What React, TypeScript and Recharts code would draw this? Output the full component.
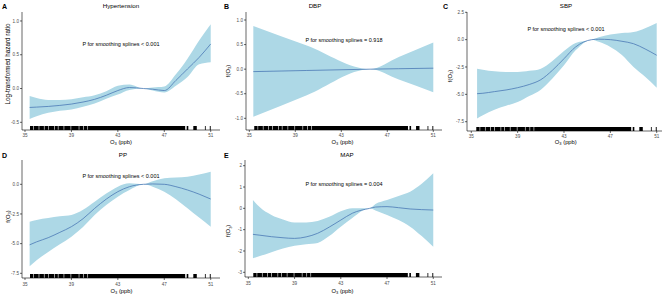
import React from 'react';
import { ComposedChart, Area, Line, XAxis, YAxis, ReferenceArea } from 'recharts';

const FONT = '"Liberation Sans", Arial, sans-serif';
const xTicks = [35, 39, 43, 47, 51];

// Panel A: Hypertension (log-transformed hazard ratio)
const hypX = [35.4, 36, 37, 38, 39, 40, 41, 42, 43, 44, 45.2, 46, 47, 48, 49, 50, 51];
const hypFit = [-0.28, -0.275, -0.265, -0.25, -0.23, -0.2, -0.16, -0.1, -0.03, 0.015, 0.0, -0.01, -0.03, 0.12, 0.29, 0.46, 0.66];
const hypLo = [-0.45, -0.41, -0.36, -0.33, -0.31, -0.27, -0.22, -0.15, -0.09, -0.02, 0.0, -0.03, -0.06, 0.04, 0.17, 0.36, 0.39];
const hypHi = [-0.11, -0.14, -0.17, -0.17, -0.16, -0.13, -0.1, -0.04, 0.04, 0.06, 0.0, 0.015, 0.03, 0.21, 0.44, 0.71, 0.95];

// Panel B: DBP
const dbpX = [35.35, 40, 45.5, 48, 51];
const dbpFit = [-0.05, -0.027, 0.0, 0.009, 0.02];
const dbpLo = [-0.97, -0.53, 0.0, -0.21, -0.47];
const dbpHi = [0.88, 0.48, 0.0, 0.245, 0.54];

// Panel C: SBP
const sbpX = [35.5, 36, 37, 38, 39, 40, 41, 42, 43, 44, 45.4, 46, 47, 48, 49, 50, 51];
const sbpFit = [-4.94, -4.9, -4.75, -4.6, -4.39, -4.1, -3.66, -2.8, -1.74, -0.67, 0.0, 0.04, 0.0, -0.15, -0.37, -0.85, -1.43];
const sbpLo = [-7.2, -6.9, -6.4, -6.05, -5.7, -5.15, -4.57, -3.55, -2.35, -0.98, 0.0, -0.2, -0.67, -1.4, -2.5, -3.4, -4.39];
const sbpHi = [-2.65, -2.75, -2.9, -2.95, -2.96, -2.85, -2.65, -1.95, -1.04, -0.3, 0.0, 0.22, 0.46, 0.6, 0.7, 1.05, 1.52];

// Panel D: PP
const ppX = [35.4, 36, 37, 38, 39, 40, 41, 42, 43, 44, 45.2, 46, 47, 48, 49, 50, 51];
const ppFit = [-5.1, -4.85, -4.5, -4.05, -3.57, -2.9, -2.03, -1.25, -0.62, -0.2, 0.0, 0.03, 0.0, -0.2, -0.48, -0.83, -1.24];
const ppLo = [-6.9, -6.4, -5.7, -5.05, -4.41, -3.6, -2.59, -1.75, -1.04, -0.48, 0.0, -0.2, -0.62, -1.25, -2.02, -2.8, -3.57];
const ppHi = [-3.15, -3.0, -2.85, -2.7, -2.59, -2.15, -1.46, -0.78, -0.2, 0.08, 0.0, 0.25, 0.5, 0.58, 0.64, 0.82, 1.06];

// Panel E: MAP
const mapX = [35.4, 36, 37, 38, 39, 40, 41, 42, 43, 44, 45.5, 46, 47, 48, 49, 50, 51];
const mapFit = [-1.22, -1.26, -1.33, -1.38, -1.41, -1.34, -1.17, -0.88, -0.55, -0.23, 0.0, 0.06, 0.08, 0.03, -0.03, -0.06, -0.08];
const mapLo = [-2.34, -2.24, -2.06, -1.88, -1.75, -1.68, -1.62, -1.3, -0.86, -0.45, 0.0, -0.1, -0.31, -0.55, -0.86, -1.3, -1.8];
const mapHi = [0.39, 0.05, -0.31, -0.52, -0.66, -0.66, -0.59, -0.4, -0.14, 0.0, 0.0, 0.2, 0.39, 0.58, 0.78, 1.15, 1.64];

// Rug of observed O3 values (ranges of dense ticks)
const rugRanges: [number, number][] = [
  [35.43, 35.72], [35.77, 36.18], [36.23, 36.63], [36.68, 36.98], [37.03, 37.53],
  [37.58, 37.83], [37.88, 38.33], [38.38, 38.93], [38.98, 39.63], [39.68, 40.03],
  [40.08, 40.38], [40.43, 48.8], [48.93, 49.07], [49.5, 49.8], [50.5, 50.57], [50.92, 51.0],
];

type PanelProps = {
  left: number; top: number; width: number; height: number;
  margin: { top: number; right: number; bottom: number; left: number };
  yWidth: number; xHeight: number; tickMarginX: number;
  xDomain: [number, number]; yDomain: [number, number];
  yTicks: number[]; yFmt: (v: number) => string;
  xs: number[]; fit: number[]; lo: number[]; hi: number[];
};

function Panel(p: PanelProps) {
  const data = p.xs.map((x, i) => ({ x, fit: p.fit[i], band: [p.lo[i], p.hi[i]] }));
  const plotH = p.height - p.margin.top - p.margin.bottom - p.xHeight;
  const rugH = ((p.yDomain[1] - p.yDomain[0]) * 4) / plotH;
  const tickStyle = { fontSize: 4.6, fill: '#4d4d4d', fontFamily: FONT };
  const lineStyle = { stroke: '#000', strokeWidth: 0.6 };
  return (
    <div style={{ position: 'absolute', left: p.left, top: p.top }}>
      <ComposedChart width={p.width} height={p.height} data={data} margin={p.margin}>
        <XAxis
          type="number" dataKey="x" domain={p.xDomain} ticks={xTicks} interval={0}
          allowDataOverflow tick={tickStyle} tickSize={2} tickMargin={p.tickMarginX}
          axisLine={lineStyle} tickLine={lineStyle} height={p.xHeight}
        />
        <YAxis
          type="number" domain={p.yDomain} ticks={p.yTicks} tickFormatter={p.yFmt} interval={0}
          allowDataOverflow width={p.yWidth} tick={tickStyle} tickSize={2} tickMargin={1}
          axisLine={lineStyle} tickLine={lineStyle}
        />
        <Area dataKey="band" type="monotone" fill="#add8e6" fillOpacity={1} stroke="none" isAnimationActive={false} />
        <Line dataKey="fit" type="monotone" stroke="#4a78b5" strokeWidth={0.8} dot={false} isAnimationActive={false} />
        {rugRanges.map(([a, b], i) => (
          <ReferenceArea key={i} x1={a} x2={b} y1={p.yDomain[0]} y2={p.yDomain[0] + rugH}
            fill="#000" fillOpacity={1} stroke="none" ifOverflow="visible" />
        ))}
      </ComposedChart>
    </div>
  );
}

const f1 = (v: number) => v.toFixed(1);
const f0 = (v: number) => v.toFixed(0);

function O3Label({ x, y }: { x: number; y: number }) {
  return (
    <text x={x} y={y} textAnchor="middle" fontSize={5.8} fontFamily={FONT} fill="#000">
      O<tspan fontSize={4} dy={1.2}>3</tspan><tspan dy={-1.2}> (ppb)</tspan>
    </text>
  );
}

function FLabel({ x, y }: { x: number; y: number }) {
  return (
    <text x={x} y={y} textAnchor="middle" fontSize={5.8} fontFamily={FONT} fill="#000"
      transform={`rotate(-90 ${x} ${y})`} dominantBaseline="central">
      f(O<tspan fontSize={4} dy={1.2}>3</tspan><tspan dy={-1.2}>)</tspan>
    </text>
  );
}

export default function App() {
  const t = { fontFamily: FONT, fill: '#000' };
  return (
    <div style={{ position: 'absolute', left: 0, top: 0, width: 669, height: 298, background: '#fff', overflow: 'hidden' }}>
      <Panel left={0} top={0} width={225} height={145} margin={{ top: 12, right: 5, bottom: 0, left: 0 }}
        yWidth={22} xHeight={15} tickMarginX={2} xDomain={[34.742, 51.8]} yDomain={[-0.614, 1.133]}
        yTicks={[-0.5, 0, 0.5, 1.0]} yFmt={f1} xs={hypX} fit={hypFit} lo={hypLo} hi={hypHi} />
      <Panel left={220} top={0} width={225} height={145} margin={{ top: 12, right: 3, bottom: 0, left: 0 }}
        yWidth={26} xHeight={15} tickMarginX={2} xDomain={[34.713, 51.757]} yDomain={[-1.238, 1.163]}
        yTicks={[-1.0, -0.5, 0, 0.5, 1.0]} yFmt={f1} xs={dbpX} fit={dbpFit} lo={dbpLo} hi={dbpHi} />
      <Panel left={440} top={0} width={229} height={145} margin={{ top: 12, right: 7, bottom: 0, left: 0 }}
        yWidth={27} xHeight={14} tickMarginX={2} xDomain={[34.63, 51.457]} yDomain={[-8.35, 2.527]}
        yTicks={[-7.5, -5.0, -2.5, 0, 2.5]} yFmt={f1} xs={sbpX} fit={sbpFit} lo={sbpLo} hi={sbpHi} />
      <Panel left={0} top={145} width={225} height={153} margin={{ top: 15, right: 5, bottom: 0, left: 0 }}
        yWidth={22} xHeight={20} tickMarginX={3} xDomain={[34.742, 51.8]} yDomain={[-7.896, 2.048]}
        yTicks={[-7.5, -5.0, -2.5, 0]} yFmt={f1} xs={ppX} fit={ppFit} lo={ppLo} hi={ppHi} />
      <Panel left={220} top={145} width={225} height={153} margin={{ top: 15, right: 3, bottom: 0, left: 0 }}
        yWidth={25} xHeight={21} tickMarginX={3} xDomain={[34.713, 51.757]} yDomain={[-3.22, 2.267]}
        yTicks={[-3, -2, -1, 0, 1, 2]} yFmt={f0} xs={mapX} fit={mapFit} lo={mapLo} hi={mapHi} />

      <svg width={669} height={298} style={{ position: 'absolute', left: 0, top: 0, pointerEvents: 'none' }}>
        <text x={2} y={8.5} fontSize={7} fontWeight="bold" {...t}>A</text>
        <text x={224} y={8.5} fontSize={7} fontWeight="bold" {...t}>B</text>
        <text x={443} y={8.5} fontSize={7} fontWeight="bold" {...t}>C</text>
        <text x={2} y={157.5} fontSize={7} fontWeight="bold" {...t}>D</text>
        <text x={224} y={157.5} fontSize={7} fontWeight="bold" {...t}>E</text>
        <text x={121} y={8.3} fontSize={6.2} fontWeight="normal" textAnchor="middle" {...t}>Hypertension</text>
        <text x={315} y={8.3} fontSize={6.2} fontWeight="normal" textAnchor="middle" {...t}>DBP</text>
        <text x={566} y={8.3} fontSize={6.2} fontWeight="normal" textAnchor="middle" {...t}>SBP</text>
        <text x={123} y={157.3} fontSize={6.2} fontWeight="normal" textAnchor="middle" {...t}>PP</text>
        <text x={347} y={157.3} fontSize={6.2} fontWeight="normal" textAnchor="middle" {...t}>MAP</text>
        <text x={121} y={46} fontSize={5.5} textAnchor="middle" {...t}>P for smoothing splines &lt; 0.001</text>
        <text x={344} y={42} fontSize={5.5} textAnchor="middle" {...t}>P for smoothing splines = 0.918</text>
        <text x={566} y={31} fontSize={5.5} textAnchor="middle" {...t}>P for smoothing splines &lt; 0.001</text>
        <text x={121} y={178} fontSize={5.5} textAnchor="middle" {...t}>P for smoothing splines &lt; 0.001</text>
        <text x={344} y={186} fontSize={5.5} textAnchor="middle" {...t}>P for smoothing splines = 0.004</text>
        <O3Label x={121} y={144} />
        <O3Label x={342.5} y={144} />
        <O3Label x={565.8} y={144} />
        <O3Label x={121.5} y={293} />
        <O3Label x={342.5} y={293} />
        <text x={7} y={64} fontSize={6.3} textAnchor="middle" dominantBaseline="central"
          transform="rotate(-90 7 64)" {...t}>Log-transformed hazard ratio</text>
        <FLabel x={228.3} y={71} />
        <FLabel x={449.5} y={76} />
        <FLabel x={8} y={216.5} />
        <FLabel x={228.3} y={230.8} />
      </svg>
    </div>
  );
}
